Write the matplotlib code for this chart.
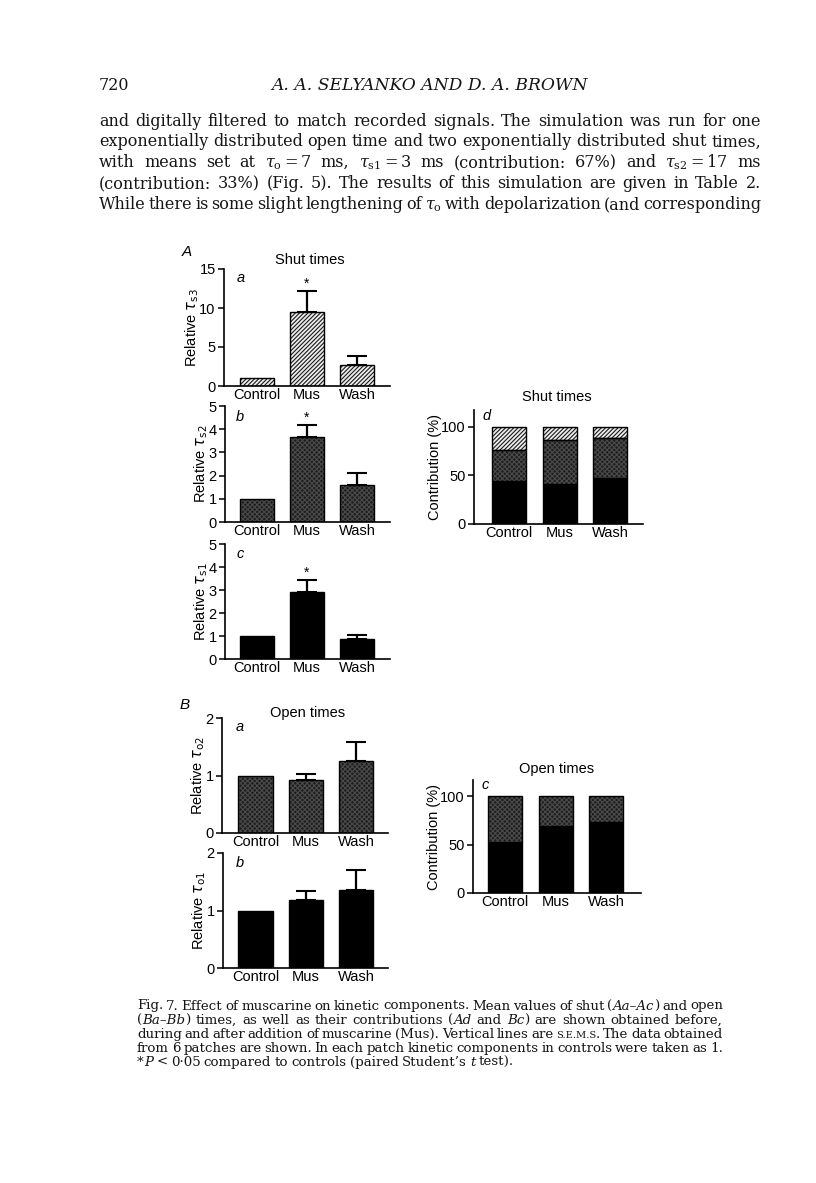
import re
import numpy as np
import matplotlib
matplotlib.use('Agg')
import matplotlib.pyplot as plt
from matplotlib.transforms import IdentityTransform

# ---------------- data ----------------
conditions = ['Control', 'Mus', 'Wash']

rel_tau_s3 = [1.0, 9.5, 2.65]
sem_tau_s3 = [0.0, 2.7, 1.25]
sig_tau_s3 = [False, True, False]
rel_tau_s2 = [1.0, 3.65, 1.58]
sem_tau_s2 = [0.0, 0.52, 0.53]
sig_tau_s2 = [False, True, False]
rel_tau_s1 = [1.0, 2.93, 0.87]
sem_tau_s1 = [0.0, 0.51, 0.18]
sig_tau_s1 = [False, True, False]

shut_contrib_s1 = [44, 41, 47]
shut_contrib_s2 = [32, 45, 41]
shut_contrib_s3 = [24, 14, 12]

rel_tau_o2 = [1.0, 0.92, 1.26]
sem_tau_o2 = [0.0, 0.11, 0.33]
sig_tau_o2 = [False, False, False]
rel_tau_o1 = [1.0, 1.18, 1.36]
sem_tau_o1 = [0.0, 0.16, 0.35]
sig_tau_o1 = [False, False, False]

open_contrib_o1 = [53, 69, 74]
open_contrib_o2 = [47, 31, 26]

# ---------------- page text ----------------
header_page = '720'
header_title = 'A. A. SELYANKO AND D. A. BROWN'
body_lines = [
    'and digitally filtered to match recorded signals. The simulation was run for one',
    'exponentially distributed open time and two exponentially distributed shut times,',
    r'with means set at $\tau_\mathrm{o}=7$ ms, $\tau_\mathrm{s1}=3$ ms (contribution: 67%) and $\tau_\mathrm{s2}=17$ ms',
    '(contribution: 33%) (Fig. 5). The results of this simulation are given in Table 2.',
    r'While there is some slight lengthening of $\tau_\mathrm{o}$ with depolarization (and corresponding',
]
caption_lines = [
    'Fig. 7. Effect of muscarine on kinetic components. Mean values of shut (|Aa–Ac|) and open',
    '(|Ba–Bb|) times, as well as their contributions (|Ad| and |Bc|) are shown obtained before,',
    'during and after addition of muscarine (Mus). Vertical lines are ^s.e.m.s^. The data obtained',
    'from 6 patches are shown. In each patch kinetic components in controls were taken as 1.',
    '*|P| < 0·05 compared to controls (paired Student’s |t| test).',
]

# ---------------- figure ----------------
W, H = 816, 1183
fig = plt.figure(figsize=(W / 100, H / 100), dpi=100)
fig.patch.set_facecolor('white')
renderer = fig.canvas.get_renderer()

SANS = 'Liberation Sans'
SERIF = 'DejaVu Serif'
plt.rcParams['hatch.linewidth'] = 0.8
TXT = '#151515'


def seg_text(x, y, s, style, size):
    kw = dict(fontsize=size, family=SERIF, transform=IdentityTransform(),
              va='baseline', ha='left', math_fontfamily='dejavuserif', color=TXT)
    if style == 'i':
        kw['style'] = 'italic'
    if style == 'sc':
        kw['fontsize'] = size * 0.74
        s = s.upper()
    return fig.text(x, y, s, **kw)


def parse_line(line):
    words = []
    for w in line.split(' '):
        parts = re.split(r'(\|[^|]*\||\^[^^]*\^)', w)
        segs = []
        for p in parts:
            if not p:
                continue
            if p.startswith('|'):
                segs.append((p[1:-1], 'i'))
            elif p.startswith('^'):
                segs.append((p[1:-1], 'sc'))
            else:
                segs.append((p, 'r'))
        words.append(segs)
    return words


def word_sum(line, size):
    words = parse_line(line)
    tot = 0
    for w in words:
        for s, st in w:
            t = seg_text(0, 0, s, st, size)
            tot += t.get_window_extent(renderer).width
            t.remove()
    return tot, len(words)


def space_width(size):
    a = fig.text(0, 0, 'a a', fontsize=size, family=SERIF)
    b = fig.text(0, 0, 'aa', fontsize=size, family=SERIF)
    w = a.get_window_extent(renderer).width - b.get_window_extent(renderer).width
    a.remove(); b.remove()
    return w


def fit_size(lines, target, gap_factor):
    ref = 10.0
    sp = space_width(ref)
    best = 1e9
    for l in lines:
        ws, n = word_sum(l, ref)
        s = ref * target / (ws + gap_factor * sp * (n - 1))
        best = min(best, s)
    return best


def place_line(line, x0, x1, y_top_base, size, justify=True):
    y = H - y_top_base
    words = parse_line(line)
    objs = []
    widths = []
    for w in words:
        segs = [seg_text(0, y, s, st, size) for s, st in w]
        ws = [t.get_window_extent(renderer).width for t in segs]
        objs.append((segs, ws))
        widths.append(sum(ws))
    if justify and len(words) > 1:
        gap = (x1 - x0 - sum(widths)) / (len(words) - 1)
    else:
        gap = space_width(size) * 0.8
    x = x0
    for segs, ws in objs:
        for t, wv in zip(segs, ws):
            t.set_x(x)
            x += wv
        x += gap


# body text
BODY_X0, BODY_X1 = 99, 761
body_size = fit_size(body_lines, BODY_X1 - BODY_X0, 0.55)
body_baselines = [125.5, 146.5, 167, 188, 209]
for l, yb in zip(body_lines, body_baselines):
    place_line(l, BODY_X0, BODY_X1, yb, body_size, justify=True)

fig.text(BODY_X0, H - 89.5, header_page, fontsize=body_size, family=SERIF,
         transform=IdentityTransform(), va='baseline', ha='left', color=TXT)
fig.text(430, H - 89.5, header_title, fontsize=body_size * 1.07, family=SERIF, style='italic',
         transform=IdentityTransform(), va='baseline', ha='center', color=TXT)

# caption
CAP_X0, CAP_X1 = 137, 723
cap_size = fit_size(caption_lines[:4], CAP_X1 - CAP_X0, 0.55)
cap_baselines = [1009.5, 1024, 1038, 1052, 1066]
for i, (l, yb) in enumerate(zip(caption_lines, cap_baselines)):
    place_line(l, CAP_X0, CAP_X1, yb, cap_size, justify=(i < 4))


# ---------------- chart panels ----------------
def axes_px(x0, x1, y_top, y_bot):
    return fig.add_axes([x0 / W, 1 - y_bot / H, (x1 - x0) / W, (y_bot - y_top) / H])


def draw_bars(ax, x, heights, bottom, style, width):
    if style == 'solid':
        ax.bar(x, heights, width, bottom=bottom, color='black', edgecolor='black', lw=1, zorder=2)
    elif style == 'stipple':
        ax.bar(x, heights, width, bottom=bottom, color='#1e1e1e', edgecolor='#4a4a4a',
               hatch='xxxxxxx', lw=0, zorder=2)
        ax.bar(x, heights, width, bottom=bottom, fill=False, edgecolor='black', lw=1, zorder=3)
    elif style == 'hatch':
        ax.bar(x, heights, width, bottom=bottom, color='#ececec', edgecolor='#1a1a1a',
               hatch='////////', lw=0, zorder=2)
        ax.bar(x, heights, width, bottom=bottom, fill=False, edgecolor='black', lw=1, zorder=3)


def style_axes(ax, ylim, yticks, ylabel):
    ax.set_ylim(*ylim)
    ax.set_yticks(yticks)
    for s in ['top', 'right']:
        ax.spines[s].set_visible(False)
    for s in ['left', 'bottom']:
        ax.spines[s].set_linewidth(1.2)
    ax.spines['left'].set_bounds(ylim[0], ylim[1])
    ax.tick_params(axis='y', direction='out', length=4, width=1.1, labelsize=10.5, pad=2)
    ax.tick_params(axis='x', length=0, labelsize=10.5, pad=1.5)
    ax.set_xticks(np.arange(3))
    ax.set_xticklabels(conditions, family=SANS)
    for lab in ax.get_yticklabels():
        lab.set_family(SANS)
    ax.set_ylabel(ylabel, family=SANS, fontsize=10.5, math_fontfamily='dejavusans', labelpad=-1)
    ax.patch.set_alpha(0)


def rel_panel(box, centers, vals, sems, sig, style, ylim, yticks, ylabel):
    x0, x1, y_top, y_bot = box
    ax = axes_px(x0, x1, y_top, y_bot)
    step = (centers[2] - centers[0]) / 2
    ax.set_xlim((x0 - centers[0]) / step, (x1 - centers[0]) / step)
    x = np.arange(3)
    width = 34 / step
    draw_bars(ax, x, vals, 0, style, width)
    idx = [i for i in range(3) if sems[i] > 0]
    ax.errorbar(x[idx], np.array(vals)[idx],
                yerr=[np.zeros(len(idx)), np.array(sems)[idx]],
                fmt='none', ecolor='black', elinewidth=1.6, capsize=7.5, capthick=1.5, zorder=4)
    for i in range(3):
        if sig[i]:
            ax.annotate('*', (x[i], vals[i] + sems[i]), xytext=(0, 0), textcoords='offset points',
                        ha='center', va='bottom', fontsize=10, family=SANS)
    style_axes(ax, ylim, yticks, ylabel)
    return ax


def stack_panel(box, centers, layers, styles, ylabel):
    x0, x1, y_top, y_bot = box
    ax = axes_px(x0, x1, y_top, y_bot)
    step = (centers[2] - centers[0]) / 2
    ax.set_xlim((x0 - centers[0]) / step, (x1 - centers[0]) / step)
    x = np.arange(3)
    width = 34 / step
    bottom = np.zeros(3)
    for lay, st in zip(layers, styles):
        draw_bars(ax, x, lay, bottom, st, width)
        bottom = bottom + np.array(lay)
    style_axes(ax, (0, 117), [0, 50, 100], ylabel)
    return ax


# A a, b, c
rel_panel((224, 390, 269, 386), (257, 307, 357), rel_tau_s3, sem_tau_s3, sig_tau_s3, 'hatch',
          (0, 15), [0, 5, 10, 15], r'Relative $\tau_{\mathrm{s3}}$')
rel_panel((225, 390, 406, 522), (257, 307, 357), rel_tau_s2, sem_tau_s2, sig_tau_s2, 'stipple',
          (0, 5), [0, 1, 2, 3, 4, 5], r'Relative $\tau_{\mathrm{s2}}$')
rel_panel((225, 390, 544, 659), (257, 307, 357), rel_tau_s1, sem_tau_s1, sig_tau_s1, 'solid',
          (0, 5), [0, 1, 2, 3, 4, 5], r'Relative $\tau_{\mathrm{s1}}$')
# A d
stack_panel((474, 643, 410, 524), (509, 560, 610),
            [shut_contrib_s1, shut_contrib_s2, shut_contrib_s3],
            ['solid', 'stipple', 'hatch'], 'Contribution (%)')
# B a, b
rel_panel((222, 388, 718, 833), (255.5, 306, 356), rel_tau_o2, sem_tau_o2, sig_tau_o2, 'stipple',
          (0, 2), [0, 1, 2], r'Relative $\tau_{\mathrm{o2}}$')
rel_panel((223, 388, 853, 968), (255.5, 306, 356), rel_tau_o1, sem_tau_o1, sig_tau_o1, 'solid',
          (0, 2), [0, 1, 2], r'Relative $\tau_{\mathrm{o1}}$')
# B c
stack_panel((473, 641, 780, 893), (505.3, 556, 606.3),
            [open_contrib_o1, open_contrib_o2], ['solid', 'stipple'], 'Contribution (%)')


def ptext(x, y, s, size=10, style='normal'):
    fig.text(x, H - y, s, fontsize=size, family=SANS, style=style,
             transform=IdentityTransform(), ha='center', va='center', color='black')


# titles
ptext(310, 260, 'Shut times', 10.5)
ptext(557, 397, 'Shut times', 10.5)
ptext(308, 713, 'Open times', 10.5)
ptext(557, 769, 'Open times', 10.5)
# panel letters
ptext(187, 252, 'A', 11, 'italic')
ptext(185, 705, 'B', 11, 'italic')
for (px, py, s) in [(241, 278, 'a'), (240, 417, 'b'), (240, 554, 'c'), (487, 416, 'd'),
                    (240, 727, 'a'), (240, 863, 'b'), (485, 785, 'c')]:
    ptext(px, py, s, 10.5, 'italic')

fig.savefig('out.png', dpi=100)
